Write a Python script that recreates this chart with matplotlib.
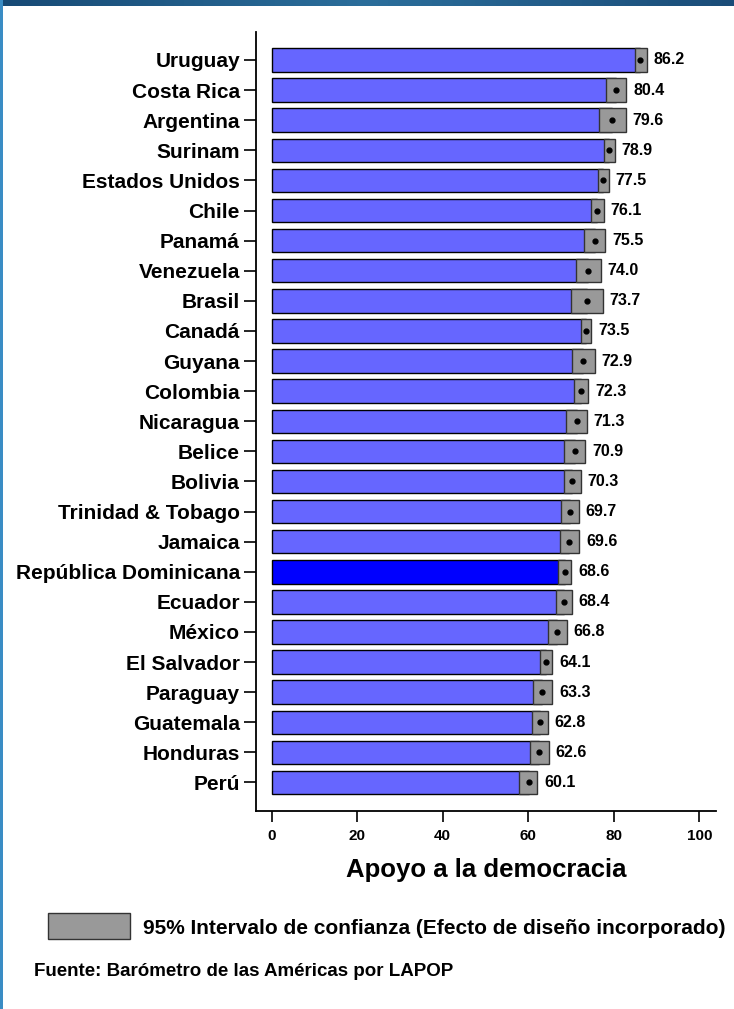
import numpy as np
import matplotlib
matplotlib.use("Agg")
import matplotlib.pyplot as plt
from matplotlib.patches import Rectangle

plt.rcParams['font.family'] = ['Liberation Sans', 'DejaVu Sans']
plt.rcParams['font.weight'] = 'bold'

# datos (de arriba hacia abajo)
paises = ["Uruguay", "Costa Rica", "Argentina", "Surinam", "Estados Unidos", "Chile",
          "Panamá", "Venezuela", "Brasil", "Canadá", "Guyana", "Colombia", "Nicaragua",
          "Belice", "Bolivia", "Trinidad & Tobago", "Jamaica", "República Dominicana",
          "Ecuador", "México", "El Salvador", "Paraguay", "Guatemala", "Honduras", "Perú"]
media = [86.2, 80.4, 79.6, 78.9, 77.5, 76.1, 75.5, 74.0, 73.7, 73.5, 72.9, 72.3, 71.3,
         70.9, 70.3, 69.7, 69.6, 68.6, 68.4, 66.8, 64.1, 63.3, 62.8, 62.6, 60.1]
ic_inf = [84.9, 78.1, 76.5, 77.6, 76.2, 74.7, 73.0, 71.2, 70.0, 72.3, 70.2, 70.8, 68.9,
          68.4, 68.4, 67.7, 67.4, 67.0, 66.6, 64.7, 62.7, 61.0, 60.9, 60.3, 57.9]
ic_sup = [87.7, 82.9, 82.8, 80.2, 78.8, 77.6, 78.0, 76.9, 77.4, 74.7, 75.5, 74.0, 73.7,
          73.3, 72.3, 71.8, 71.9, 70.1, 70.2, 69.0, 65.6, 65.6, 64.5, 64.8, 62.1]
destacado = "República Dominicana"

W, H = 734, 1009
fig = plt.figure(figsize=(W / 100, H / 100), dpi=100)
fig.patch.set_facecolor('white')

ax = fig.add_axes([256 / W, 1 - 811 / H, (716 - 256) / W, (811 - 32) / H])

n = len(paises)
y = np.arange(n)[::-1]
alto = 0.78
for yi, p, m, lo, hi in zip(y, paises, media, ic_inf, ic_sup):
    color = '#0000ff' if p == destacado else '#6666ff'
    ax.barh(yi, m, height=alto, color=color, edgecolor='black', linewidth=1.0, zorder=2)
    ax.barh(yi, hi - lo, left=lo, height=alto, color='#999999', edgecolor='#333333',
            linewidth=1.0, zorder=3)
    ax.plot(m, yi, 'o', color='black', markersize=3.5, zorder=4)
    ax.annotate(f"{m:.1f}", (hi, yi), xytext=(5, 0), textcoords='offset points',
                va='center', ha='left', fontsize=11.5, fontweight='bold')

ax.set_xlim(-3.67, 103.9)
ax.set_ylim(-0.947, n - 1 + 0.93)
ax.set_yticks(y)
ax.set_yticklabels(paises, fontsize=15, fontweight='bold')
ax.set_xticks([0, 20, 40, 60, 80, 100])
ax.set_xticklabels(['0', '20', '40', '60', '80', '100'], fontsize=11, fontweight='bold')
ax.tick_params(axis='y', length=8.6, width=1.2, pad=3)
ax.tick_params(axis='x', length=8, width=1.2, pad=5)
for s in ['top', 'right']:
    ax.spines[s].set_visible(False)
for s in ['left', 'bottom']:
    ax.spines[s].set_linewidth(1.3)

fig.text(486 / W, 1 - 870 / H, "Apoyo a la democracia", ha='center', va='center',
         fontsize=18.5, fontweight='bold')

# leyenda
fig.patches.append(Rectangle((48 / W, 1 - 939 / H), 82 / W, 26 / H, transform=fig.transFigure,
                             facecolor='#999999', edgecolor='#333333', linewidth=1.0))
fig.text(143 / W, 1 - 928 / H, "95% Intervalo de confianza (Efecto de diseño incorporado)",
         ha='left', va='center', fontsize=15, fontweight='bold')
fig.text(34 / W, 1 - 971 / H, "Fuente: Barómetro de las Américas por LAPOP",
         ha='left', va='center', fontsize=13.5, fontweight='bold')

# marco azul
banda = fig.add_axes([0, 1 - 6 / H, 1, 6 / H])
grad = np.linspace(0, 1, 256).reshape(1, -1)
cmap = matplotlib.colors.LinearSegmentedColormap.from_list(
    'marco', ['#174a75', '#2b6e9b', '#1a4c78'])
banda.imshow(grad, aspect='auto', cmap=cmap)
banda.axis('off')
fig.patches.append(Rectangle((0, 0), 3 / W, 1, transform=fig.transFigure,
                             facecolor='#3a8cc4', edgecolor='none'))

fig.savefig('out.png', dpi=100)
